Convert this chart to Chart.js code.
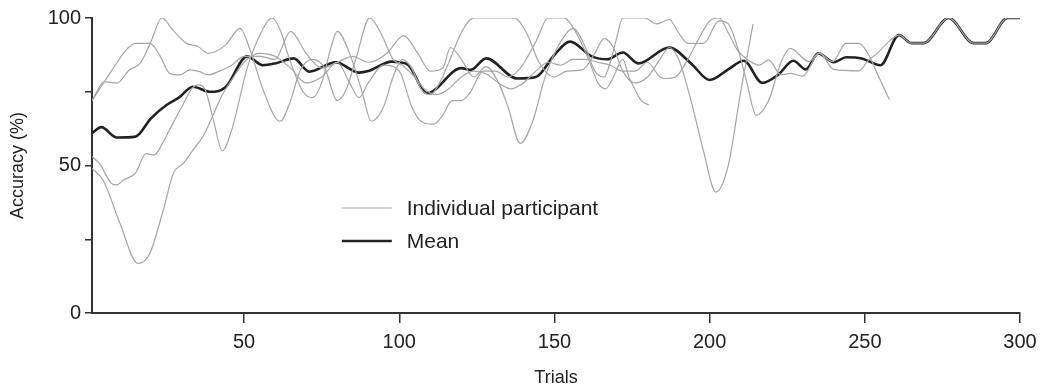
<!DOCTYPE html>
<html>
<head>
<meta charset="utf-8">
<script src="https://cdn.jsdelivr.net/npm/chart.js@4.4.1/dist/chart.umd.min.js"></script>
<style>
  html, body { margin: 0; padding: 0; background: #fff; }
  #wrap { width: 1050px; height: 390px; }
</style>
</head>
<body>
<div id="wrap"><canvas id="accChart"></canvas></div>
<script>
// tick values
const xTicks = [50, 100, 150, 200, 250, 300];
const yTicks = [0, 25, 50, 75, 100];
const yLabelled = [0, 50, 100];

// [trial, accuracy %]
const participant1 = [
  [1, 72], [5, 78.4], [9, 77.9], [13, 82.4], [16.5, 84.6], [20, 92], [23.5, 100], [27, 96],
  [31.5, 91.4], [35, 90.4], [38.5, 88], [44, 90.8], [48.7, 96.5], [52, 89], [56, 76], [61.6, 65],
  [65, 72], [68, 82], [72, 86], [76, 83], [80, 72], [83, 76], [86, 86], [90.5, 100], [94, 95],
  [98, 86], [101, 84], [105, 80], [108, 76], [112, 74], [116, 76], [120, 80], [124, 82], [128, 81],
  [132, 78], [136, 76], [140, 78], [144, 82], [148, 85], [152, 84], [156, 86], [160, 86], [164, 85],
  [168, 84], [172, 82], [176, 82], [180, 85], [184, 80], [186, 79.5], [189, 80], [193, 86], [197, 94],
  [200, 99], [203, 100], [206, 95], [209, 89], [212, 86], [216, 84], [219, 85.8], [223, 80.7],
  [226, 81.2], [230, 80.3], [235.3, 88], [239.6, 85.2], [243.9, 91.4], [248.2, 91.4], [251.5, 87],
  [254.5, 80], [257.9, 72.4]
];
const participant2 = [
  [1, 72], [5, 78.4], [8.5, 84], [12, 89.2], [15, 91.4], [19.7, 91.4], [23, 87], [26, 81.2],
  [29.3, 80.7], [32.5, 82.4], [35.7, 81.8], [38.5, 80.7], [42, 82], [46, 84], [50, 87], [55, 87],
  [60, 86], [65, 95.5], [70, 88], [75, 83], [80, 85], [85, 87], [90, 85], [96, 88], [101.4, 94],
  [106, 88], [110, 82], [114, 83], [116.5, 90], [120, 86], [124, 80], [128, 83.5], [132, 78],
  [135, 70], [139, 57.5], [143, 65], [147, 80], [152, 92], [156, 96.5], [160, 90], [163, 82],
  [166, 80], [168, 85], [170, 93], [172, 100], [179, 100], [183, 98], [187, 99.5], [190, 95],
  [193, 91.4], [198, 91.4], [203, 99], [206, 98], [209, 90], [212, 78], [215, 67], [219, 72],
  [223, 85], [226, 89.7], [232, 85.2], [235.3, 88.2], [240, 82.6], [248, 82.1], [251.3, 85.8],
  [254, 88], [257.7, 92], [261, 94.2], [265, 91.5], [269, 91.5], [277, 100], [285, 91.5],
  [289, 91.5], [296, 100], [300, 100]
];
const participant3 = [
  [1, 53], [3.4, 50.7], [7.2, 44], [9, 43.4], [11, 45], [15, 47.4], [18.4, 54], [21, 53.6],
  [23.7, 57.5], [27, 64.2], [30, 70], [33.3, 76.2], [35.4, 77.3], [37.5, 75.6], [40, 66], [43, 55],
  [46, 62], [51, 83], [55, 94], [59, 100], [62, 95], [64, 88], [69, 75], [72, 73], [75, 78],
  [78, 90], [80, 95.5], [84, 88], [88, 75], [91, 65], [95, 70], [98, 80], [101, 86], [104, 83],
  [107, 76], [110, 74], [113, 78], [116, 85], [120, 95], [124, 100], [137, 100], [141, 95],
  [145, 85], [150, 80], [154, 82], [159, 82.4], [163, 88], [166, 93], [169, 90], [172, 82],
  [176, 78], [180, 80], [184, 86], [187, 90], [190, 86], [194, 72], [198, 55], [202, 41],
  [206, 50], [210, 75], [214, 98]
];
const participant4 = [
  [1, 49], [4.6, 45], [10, 30.4], [15.8, 16.8], [19.6, 20.2], [24, 35], [27.2, 47.3], [30.4, 50.7],
  [33.6, 55.3], [36.8, 60], [40, 67], [43, 74], [46, 79], [50, 85], [55, 88], [60, 87], [65, 83],
  [70, 78], [75, 80], [80, 85], [84, 78], [87, 73], [90, 78], [95, 84], [100, 82], [104, 70],
  [107, 65], [111, 64], [114, 67], [117, 72], [120, 72], [123, 75], [127, 82], [131, 82], [135, 80],
  [139, 83], [144, 92], [148, 100], [153, 100], [157, 95], [161, 86], [164, 78], [166.5, 76],
  [169, 80], [172, 86], [174, 80], [176, 75.6], [178, 72], [180.4, 70.5]
];
const meanAccuracy = [
  [1, 61], [4, 63], [9, 59.5], [15, 59.8], [20, 66], [25, 70.5], [29, 73], [33.5, 76.7], [39, 75],
  [44, 76.5], [51, 87], [56, 84], [60, 84.6], [66, 86.3], [71, 81.8], [79.5, 85], [87, 81.5],
  [90, 82], [97.6, 85.2], [100, 85], [103, 84], [109, 74.5], [120, 83], [123, 82.4], [128, 86.3],
  [138, 79.5], [144, 80], [150, 87.5], [155, 92], [162, 87], [167, 86], [172, 88.3], [177, 84.6],
  [187, 90], [194, 84.6], [200, 79], [206, 82.6], [211, 85.5], [217, 78], [222, 80.7], [227, 85.5],
  [231, 82.6], [235, 88], [240, 85], [244, 86.7], [249, 86.3], [255, 84], [261, 94.2], [265, 91.5],
  [269, 91.5], [277, 100], [285, 91.5], [289, 91.5], [296, 100], [300, 100]
];

const participants = [participant1, participant2, participant3, participant4];

const GREY = '#a6a6a6';
const DARK = '#222222';
const FONT = '"Liberation Sans", Arial, Helvetica, sans-serif';
Chart.defaults.font.family = FONT;
Chart.defaults.color = DARK;

// legend drawn inside the plot, placed in data units
const legendLineFrom = 81.5;
const legendLineTo = 97.6;
const legendTextAt = 102.4;
const legendRows = [
  { label: 'Individual participant', y: 35.6, color: GREY, width: 1.2 },
  { label: 'Mean', y: 24.4, color: DARK, width: 2.5 },
];

const inlineLegend = {
  id: 'inlineLegend',
  afterDatasetsDraw(chart) {
    const { ctx } = chart;
    const x = chart.scales.x, y = chart.scales.y;
    ctx.save();
    ctx.font = '21px ' + FONT;
    ctx.textBaseline = 'middle';
    ctx.fillStyle = DARK;
    legendRows.forEach(row => {
      const py = y.getPixelForValue(row.y);
      ctx.strokeStyle = row.color;
      ctx.lineWidth = row.width;
      ctx.beginPath();
      ctx.moveTo(x.getPixelForValue(legendLineFrom), py);
      ctx.lineTo(x.getPixelForValue(legendLineTo), py);
      ctx.stroke();
      ctx.fillText(row.label, x.getPixelForValue(legendTextAt), py + 1);
    });
    ctx.restore();
  }
};

const datasets = participants.map((pts, i) => ({
  label: 'Participant ' + (i + 1),
  data: pts,
  borderColor: GREY,
  borderWidth: 1.2,
}));
datasets.push({
  label: 'Mean',
  data: meanAccuracy,
  borderColor: DARK,
  borderWidth: 2.6,
});

new Chart(document.getElementById('accChart'), {
  type: 'line',
  data: { datasets },
  options: {
    responsive: true,
    maintainAspectRatio: false,
    animation: false,
    layout: { padding: { top: 18, right: 30, left: 0, bottom: 0 } },
    elements: {
      point: { radius: 0 },
      line: { tension: 0.4, cubicInterpolationMode: 'monotone', fill: false },
    },
    plugins: {
      legend: { display: false },
      tooltip: { enabled: false },
    },
    scales: {
      x: {
        type: 'linear',
        min: 1,
        max: 300,
        afterBuildTicks: s => { s.ticks = xTicks.map(v => ({ value: v })); },
        afterFit: s => { s.height = 77; },
        ticks: { font: { size: 20 }, color: DARK, padding: 7, maxRotation: 0, autoSkip: false },
        grid: { drawOnChartArea: false, tickLength: 10, color: '#333', lineWidth: 1.5 },
        border: { color: '#333', width: 2 },
        title: { display: true, text: 'Trials', font: { size: 18 }, padding: { top: 0, bottom: 1 } },
      },
      y: {
        min: 0,
        max: 100,
        afterBuildTicks: s => { s.ticks = yTicks.map(v => ({ value: v })); },
        afterFit: s => { s.width = 92; },
        ticks: {
          font: { size: 20 },
          color: DARK,
          padding: 4,
          callback: v => (yLabelled.includes(v) ? v : ''),
        },
        grid: { drawOnChartArea: false, tickLength: 7, color: '#333', lineWidth: 1.5 },
        border: { color: '#333', width: 2 },
        title: { display: true, text: 'Accuracy (%)', font: { size: 18 }, padding: { top: 7, bottom: 4 } },
      },
    },
  },
  plugins: [inlineLegend],
});
</script>
</body>
</html>
